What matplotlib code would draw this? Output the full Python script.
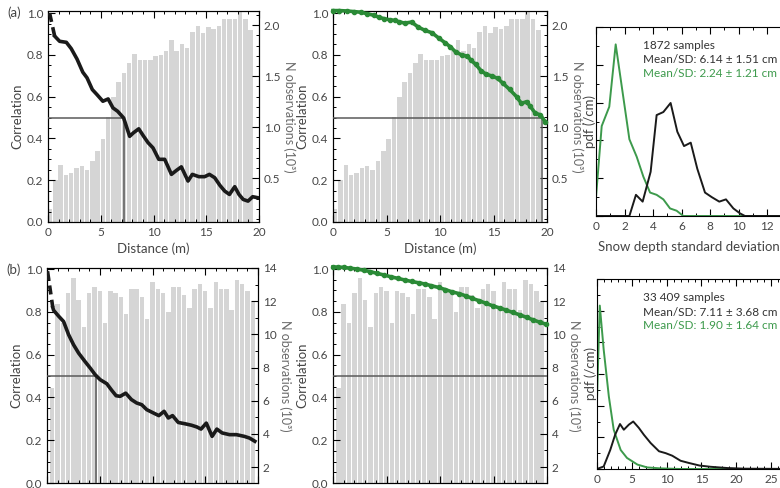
#!/usr/bin/env python3
"""
Correlation vs distance with observation counts, and snow depth SD pdfs.
Writes out.png
"""

import matplotlib
matplotlib.use("Agg")
import matplotlib.pyplot as plt
from matplotlib.ticker import MultipleLocator, AutoMinorLocator

plt.rcParams["font.family"] = ["Lato", "DejaVu Sans"]

W, H = 780, 488
GREEN = "#2a8a36"
PDF_GREEN = "#3d9a4c"
BAR = "#d5d5d5"
REF = "#5a5a5a"
TXT = "#454545"

# ---- row (a): 0.5 m distance bins, N observations (10^3)
bins_a = [0.2 + 0.5 * i for i in range(39)]
nobs_a = [0.20, 0.48, 0.63, 0.53, 0.55, 0.60, 0.62, 0.58, 0.67, 0.77,
          0.88, 1.10, 1.30, 1.44, 1.53, 1.63, 1.72, 1.66, 1.66, 1.66,
          1.70, 1.71, 1.75, 1.86, 1.75, 1.82, 1.78, 1.93, 1.99, 1.92,
          1.98, 1.96, 1.99, 2.06, 2.06, 2.06, 2.15, 2.06, 1.95]

# black correlation curve (first two points drawn dashed)
dist_a_blk = [0.15, 0.63, 1.1, 1.74, 2.2, 2.75, 3.3, 3.7, 4.2, 4.64, 5.2, 5.7,
              6.16, 6.6, 7.17, 7.74, 8.1, 8.6, 9.07, 9.48, 9.95, 10.5, 11.06,
              11.7, 12.2, 12.64, 13.27, 13.68, 14.3, 14.85, 15.3, 15.8, 16.3,
              16.75, 17.2, 17.7, 18.1, 18.5, 18.96, 19.4, 19.9]
corr_a_blk = [1.0, 0.89, 0.865, 0.86, 0.83, 0.78, 0.717, 0.69, 0.634, 0.61,
              0.578, 0.589, 0.546, 0.53, 0.498, 0.41, 0.427, 0.446, 0.41, 0.38,
              0.355, 0.30, 0.30, 0.228, 0.248, 0.264, 0.196, 0.228, 0.217,
              0.217, 0.228, 0.212, 0.175, 0.148, 0.132, 0.169, 0.132, 0.108,
              0.10, 0.121, 0.116]

# green correlation curve
dist_a_grn = [0.0, 0.6, 1.33, 2.0, 2.6, 3.2, 3.86, 4.3, 4.8, 5.3, 5.76, 6.2,
              6.7, 7.34, 7.97, 8.6, 9.24, 9.87, 10.5, 10.98, 11.46, 12.1,
              12.56, 12.88, 13.35, 13.83, 14.3, 14.9, 15.4, 15.9, 16.5, 17.15,
              17.6, 18.1, 18.4, 18.9, 19.37, 19.84]
corr_a_grn = [1.012, 1.012, 1.01, 1.007, 1.004, 0.997, 0.989, 0.98, 0.973,
              0.968, 0.965, 0.958, 0.952, 0.957, 0.933, 0.917, 0.906, 0.881,
              0.857, 0.838, 0.814, 0.798, 0.794, 0.775, 0.754, 0.724, 0.708,
              0.698, 0.687, 0.663, 0.635, 0.60, 0.568, 0.576, 0.556, 0.521,
              0.513, 0.48]

cross_a = [7.25, 19.5]  # distance where correlation drops to 0.5

# pdf of snow depth SD, row (a)
sd_a_blk = [0, 2.34, 2.80, 3.27, 3.83, 4.25, 4.72, 5.23, 5.70, 6.17, 6.64,
            7.10, 7.64, 8.11, 8.64, 9.11, 9.63, 10.09, 10.44, 15]
pdf_a_blk = [0, 0, 0.056, 0.038, 0.117, 0.267, 0.275, 0.299, 0.223, 0.185,
             0.194, 0.125, 0.062, 0.05, 0.038, 0.044, 0.02, 0.007, 0, 0]
sd_a_grn = [0, 0.40, 0.93, 1.38, 2.34, 2.85, 3.32, 3.79, 4.25, 4.72, 5.19,
            5.65, 6.12, 15]
pdf_a_grn = [0.05, 0.238, 0.289, 0.454, 0.203, 0.157, 0.104, 0.062, 0.056,
             0.044, 0.02, 0.014, 0, 0]
sd_a_ticks = [0, 2, 4, 6, 8, 10, 12]
stats_a = ["1872 samples", "Mean/SD: 6.14 \u00b1 1.51 cm",
           "Mean/SD: 2.24 \u00b1 1.21 cm"]

# ---- row (b)
bins_b = [0.5 + 0.5 * i for i in range(39)]
nobs_b = [6.79, 11.85, 10.68, 12.49, 13.40, 12.10, 10.42, 12.49, 12.88, 12.62,
          10.68, 12.62, 12.49, 12.23, 11.20, 12.75, 12.75, 12.23, 10.94, 13.14,
          12.75, 12.49, 11.33, 12.88, 12.88, 12.36, 11.59, 12.75, 13.01, 12.62,
          11.59, 13.14, 12.75, 12.75, 11.46, 13.27, 13.01, 12.62, 11.97]

dist_b_blk = [0.05, 0.55, 0.63, 1.1, 1.57, 2.05, 2.52, 3.0, 3.6, 4.1, 4.57,
              5.04, 5.67, 6.14, 6.55, 6.93, 7.46, 8.0, 8.5, 8.98, 9.45, 10.1,
              10.6, 11.1, 11.5, 11.9, 12.44, 13.07, 13.7, 14.2, 14.6, 15.1,
              15.65, 16.1, 16.6, 17.3, 17.95, 18.7, 19.2, 19.7]
corr_b_blk = [0.99, 0.82, 0.807, 0.78, 0.755, 0.693, 0.646, 0.607, 0.568,
              0.537, 0.506, 0.483, 0.464, 0.433, 0.408, 0.405, 0.42, 0.39,
              0.374, 0.366, 0.343, 0.327, 0.315, 0.335, 0.304, 0.315, 0.283,
              0.277, 0.27, 0.262, 0.252, 0.28, 0.218, 0.252, 0.234, 0.226,
              0.226, 0.218, 0.21, 0.195]

dist_b_grn = [0.0, 0.5, 1.0, 1.6, 2.28, 2.9, 3.5, 4.1, 4.8, 5.4, 6.1, 6.7,
              7.34, 8.0, 8.6, 9.2, 9.87, 10.5, 11.1, 11.8, 12.4, 13.0, 13.67,
              14.3, 14.94, 15.6, 16.2, 16.8, 17.47, 18.1, 18.73, 19.3, 19.94]
corr_b_grn = [1.01, 1.009, 1.008, 1.004, 1.0, 0.994, 0.988, 0.98, 0.972, 0.964,
              0.956, 0.949, 0.942, 0.936, 0.93, 0.922, 0.914, 0.904, 0.894,
              0.885, 0.875, 0.863, 0.852, 0.84, 0.828, 0.818, 0.808, 0.797,
              0.786, 0.774, 0.762, 0.752, 0.742]

cross_b = [4.6, None]

sd_b_blk = [0, 0.96, 1.9, 2.6, 3.3, 3.85, 4.57, 5.2, 6.0, 6.73, 7.7, 8.9, 9.86,
            10.8, 12.0, 13.2, 14.7, 16.3, 18.75, 21.2, 30]
pdf_b_blk = [0, 0.008, 0.06, 0.108, 0.142, 0.124, 0.14, 0.15, 0.13, 0.108,
             0.082, 0.056, 0.05, 0.042, 0.026, 0.019, 0.011, 0.007, 0.003,
             0.001, 0]
sd_b_grn = [0, 0.4, 0.96, 1.7, 2.4, 3.4, 4.3, 5.8, 7.2, 9.1, 12, 30]
pdf_b_grn = [0.22, 0.516, 0.377, 0.229, 0.124, 0.06, 0.035, 0.014, 0.005,
             0.002, 0, 0]
sd_b_ticks = [0, 5, 10, 15, 20, 25]
stats_b = ["33 409 samples", "Mean/SD: 7.11 \u00b1 3.68 cm",
           "Mean/SD: 1.90 \u00b1 1.64 cm"]


def px_axes(fig, left, top, right, bottom):
    return fig.add_axes([left / W, 1 - bottom / H,
                         (right - left) / W, (bottom - top) / H])


def style_ticks(ax, **kw):
    ax.tick_params(which="both", direction="in", labelsize=8.5,
                   labelcolor=TXT, **kw)
    ax.tick_params(which="major", length=5, width=0.8)
    ax.tick_params(which="minor", length=2.5, width=0.7)


def corr_panel(fig, box, bins, nobs, nlim, nstep, dist, corr, lim_l,
               cross, green, show_x):
    ax = px_axes(fig, *box)
    ax2 = ax.twinx()
    ax.set_zorder(ax2.get_zorder() + 1)
    ax.patch.set_visible(False)

    ax2.bar(bins, nobs, width=0.42, color=BAR, edgecolor="none")
    ax2.set_ylim(*nlim)
    ax2.yaxis.set_major_locator(MultipleLocator(nstep))
    ax2.yaxis.set_minor_locator(AutoMinorLocator(5 if nstep < 1 else 2))
    style_ticks(ax2, right=True)
    ax2.set_ylabel("N observations (10\u00b3)", rotation=270, labelpad=11,
                   color="#6a6a6a", fontsize=9)

    if green:
        ax.plot(dist, corr, color=GREEN, lw=2.6, marker="o", ms=3.0,
                mec=GREEN, mfc=GREEN, clip_on=False, zorder=4)
    else:
        ax.plot(dist[:2], corr[:2], color="#1a1a1a", lw=2.6,
                dashes=(2.5, 1.5), solid_capstyle="butt", zorder=4)
        ax.plot(dist[1:], corr[1:], color="#1a1a1a", lw=2.6, zorder=4)

    if cross is None:
        ax.axhline(0.5, color=REF, lw=1.1, zorder=3)
    else:
        ax.plot([0, cross], [0.5, 0.5], color=REF, lw=1.1, zorder=3)
        ax.plot([cross, cross], [0, 0.5], color=REF, lw=1.1, zorder=3)

    ax.set_xlim(0, 20)
    ax.set_ylim(*lim_l)
    ax.xaxis.set_major_locator(MultipleLocator(5))
    ax.xaxis.set_minor_locator(MultipleLocator(1))
    ax.yaxis.set_major_locator(MultipleLocator(0.2))
    ax.yaxis.set_minor_locator(MultipleLocator(0.05))
    style_ticks(ax, top=True, labelbottom=show_x)
    ax.yaxis.set_major_formatter(plt.FuncFormatter(lambda v, p: f"{v:.1f}"))
    ax.set_ylabel("Correlation", color=TXT, fontsize=9.5, labelpad=2)
    if show_x:
        ax.set_xlabel("Distance (m)", color=TXT, fontsize=9.5, labelpad=3)
    return ax


def pdf_panel(fig, box, xlim, xticks, nmajor, ylim, sd_k, pdf_k, sd_g, pdf_g,
              stats, show_xlabel):
    ax = px_axes(fig, *box)
    ax.plot(sd_g, pdf_g, color=PDF_GREEN, lw=1.4)
    ax.plot(sd_k, pdf_k, color="#1a1a1a", lw=1.4)
    ax.set_xlim(*xlim)
    ax.set_ylim(*ylim)
    ax.set_xticks(xticks)
    step = xticks[1] - xticks[0]
    ax.xaxis.set_minor_locator(MultipleLocator(step / (2 if step == 2 else 5)))
    ax.yaxis.set_major_locator(MultipleLocator(ylim[1] / nmajor))
    ax.yaxis.set_minor_locator(AutoMinorLocator(2))
    style_ticks(ax, top=True, right=True, labelleft=False)
    ax.set_ylabel("pdf (/cm)", color=TXT, fontsize=9.5, labelpad=0)
    if show_xlabel:
        ax.set_xlabel("Snow depth standard deviation (cm)", color=TXT,
                      fontsize=9.5, labelpad=6)
    ax.text(0.22, 0.93, stats[0], transform=ax.transAxes, fontsize=8.5,
            color="#333333", va="top")
    ax.text(0.22, 0.855, stats[1], transform=ax.transAxes, fontsize=8.5,
            color="#333333", va="top")
    ax.text(0.22, 0.785, stats[2], transform=ax.transAxes, fontsize=8.5,
            color=PDF_GREEN, va="top")
    return ax


def main():
    fig = plt.figure(figsize=(W / 100, H / 100), dpi=100)

    corr_panel(fig, (48, 11, 259, 222), bins_a, nobs_a, (0.07, 2.14), 0.5,
               dist_a_blk, corr_a_blk, (0, 1.01), cross_a[0], False, True)
    corr_panel(fig, (333, 11, 547, 222), bins_a, nobs_a, (0.07, 2.14), 0.5,
               dist_a_grn, corr_a_grn, (0, 1.01), cross_a[1], True, True)
    pdf_panel(fig, (596, 27, 810, 216), (0, 15), sd_a_ticks, 5, (0, 0.5),
              sd_a_blk, pdf_a_blk, sd_a_grn, pdf_a_grn, stats_a, True)

    corr_panel(fig, (47, 268, 258, 483), bins_b, nobs_b, (1.04, 14.0), 2,
               dist_b_blk, corr_b_blk, (0, 1.005), cross_b[0], False, False)
    corr_panel(fig, (333, 268, 547, 483), bins_b, nobs_b, (1.04, 14.0), 2,
               dist_b_grn, corr_b_grn, (0, 1.005), cross_b[1], True, False)
    pdf_panel(fig, (597, 279, 806, 469), (0, 30), sd_b_ticks, 6, (0, 0.6),
              sd_b_blk, pdf_b_blk, sd_b_grn, pdf_b_grn, stats_b, False)

    fig.text(14 / W, 1 - 13 / H, "(a)", fontsize=9.5, color=TXT,
             ha="center", va="center")
    fig.text(14 / W, 1 - 270 / H, "(b)", fontsize=9.5, color=TXT,
             ha="center", va="center")

    fig.savefig("out.png", dpi=100)
    plt.close(fig)


if __name__ == "__main__":
    main()
